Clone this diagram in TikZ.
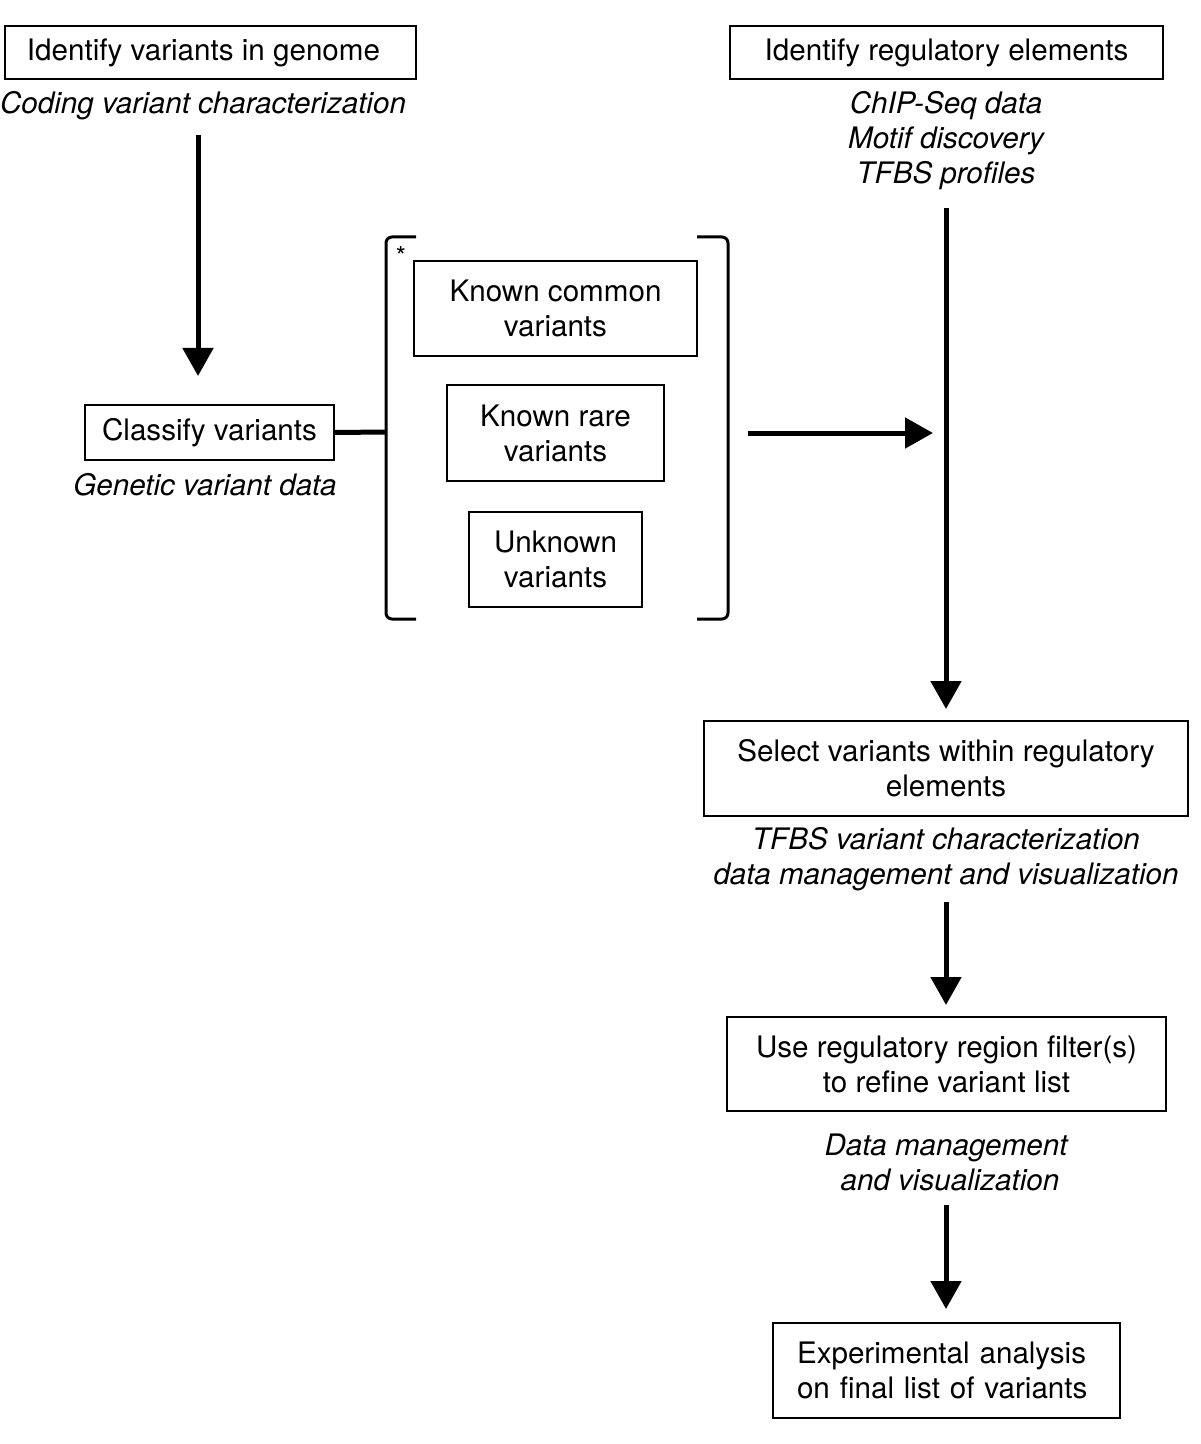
\documentclass[tikz,border=0pt]{standalone}
\usepackage{fontspec}
\setmainfont{TeX Gyre Heros}
\usetikzlibrary{arrows.meta}
\tikzset{
  box/.style={draw, line width=1pt, align=center, inner sep=0pt, font=\fontsize{14.8pt}{17.5pt}\selectfont},
  lbl/.style={align=center, inner sep=0pt, font=\fontsize{14.8pt}{17.5pt}\selectfont\itshape},
  arr/.style={line width=2.5pt, -{Triangle[length=14pt,width=15pt]}},
  thick line/.style={line width=2.5pt},
  brk/.style={line width=1.5pt, rounded corners=3pt},
}
\begin{document}
\begin{tikzpicture}[x=0.5pt,y=-0.5pt]
\useasboundingbox (0,0) rectangle (1200,1444);
% boxes
\node[box, minimum width=205.5pt, minimum height=26.5pt] (ivg) at (210.5,52.5) {Identify variants in genome\hspace*{7pt}};
\node[box, minimum width=216.5pt, minimum height=26.5pt] (ire) at (946.5,52.5) {Identify regulatory elements};
\node[box, minimum width=124.5pt, minimum height=27.5pt] (cls) at (209.5,432.5) {Classify variants};
\node[box, minimum width=141.5pt, minimum height=47.5pt] (kc) at (555.5,308.5) {Known common\\variants};
\node[box, minimum width=108.5pt, minimum height=48pt] (kr) at (555.5,433) {Known rare\\variants};
\node[box, minimum width=86.5pt, minimum height=47.5pt] (uv) at (555.5,559.5) {Unknown\\variants};
\node[box, minimum width=242pt, minimum height=47.5pt] (sel) at (946,768.5) {Select variants within regulatory\\elements};
\node[box, minimum width=219.5pt, minimum height=47pt] (use) at (946.5,1064) {Use regulatory region filter(s)\\to refine variant list};
\node[box, align=left, text width=149.5pt, minimum width=173.5pt, minimum height=47.5pt] (exp) at (946.5,1370.5) {Experimental analysis\\on final list of variants};
% italic labels
\node[lbl] (l1) at (203,106) {Coding variant characterization};
\node[lbl] (l2) at (946,141) {ChIP-Seq data\\Motif discovery\\TFBS profiles};
\node[lbl] (l3) at (205,485) {Genetic variant data};
\node[lbl] (l4) at (946,859.5) {TFBS variant characterization\\data management and visualization};
\node[lbl] (l5) at (946,1162.5) {Data management\\\hspace*{4pt}and visualization};
\node[inner sep=0pt, font=\fontsize{13pt}{14pt}\selectfont] (ast) at (401,256) {*};
% coordinates
\coordinate (a1s) at (198,135);
\coordinate (a1e) at (198,376);
\coordinate (a2s) at (946,208);
\coordinate (a2e) at (946,709);
\coordinate (a3s) at (748,433);
\coordinate (a3e) at (933,433);
\coordinate (a4s) at (946,902);
\coordinate (a4e) at (946,1005);
\coordinate (a5s) at (946,1205);
\coordinate (a5e) at (946,1309);
\coordinate (bl) at (386,432);
% bracket
\draw[brk] (416,237) -| (386,619) -- (416,619);
\draw[brk] (697,237) -| (728,619) -- (697,619);
% connectors
\draw[arr] (a1s) -- (a1e);
\draw[arr] (a2s) -- (a2e);
\draw[arr] (a3s) -- (a3e);
\draw[arr] (a4s) -- (a4e);
\draw[arr] (a5s) -- (a5e);
\draw[thick line] (cls.east) -- (bl);
\end{tikzpicture}
\end{document}
